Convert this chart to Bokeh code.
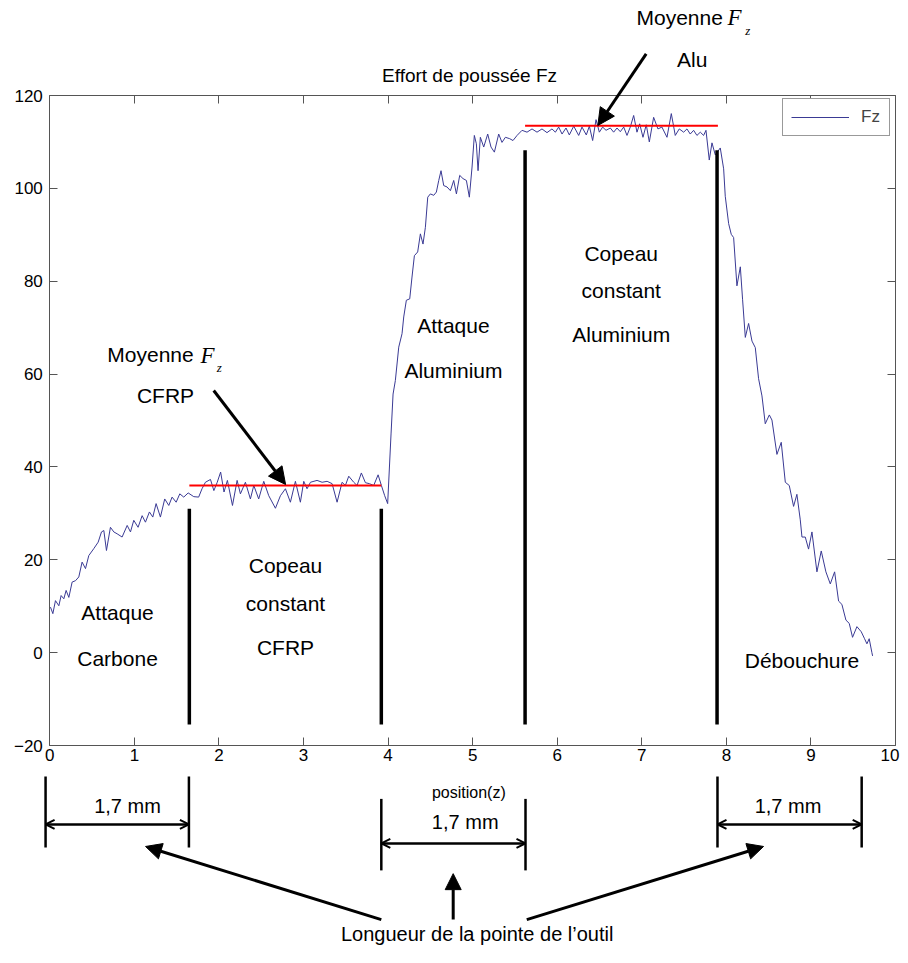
from bokeh.plotting import figure
from bokeh.models import (LinearAxis, FixedTicker, Arrow, NormalHead, OpenHead,
                          Range1d)
from bokeh.core.properties import value
from bokeh.embed import file_html
from bokeh.resources import INLINE

# ---------------- data ----------------
position_z = [
    0.008, 0.036, 0.067, 0.107, 0.134, 0.166, 0.193, 0.225, 0.264, 0.304,
    0.343, 0.382, 0.422, 0.461, 0.520, 0.572, 0.611, 0.639, 0.670, 0.717,
    0.757, 0.796, 0.855, 0.915, 0.954, 0.993, 1.044, 1.092, 1.131, 1.178,
    1.218, 1.257, 1.308, 1.359, 1.407, 1.446, 1.494, 1.537, 1.584, 1.636,
    1.702, 1.760, 1.800, 1.840, 1.900, 1.940, 1.980, 2.020, 2.060, 2.100,
    2.160, 2.215, 2.254, 2.313, 2.372, 2.412, 2.470, 2.530, 2.589, 2.668,
    2.727, 2.786, 2.845, 2.904, 2.963, 3.003, 3.042, 3.082, 3.160, 3.220,
    3.279, 3.338, 3.397, 3.456, 3.495, 3.535, 3.594, 3.633, 3.684, 3.732,
    3.779, 3.830, 3.882, 3.921, 3.960, 3.995, 4.035, 4.059, 4.086, 4.126,
    4.165, 4.185, 4.216, 4.256, 4.283, 4.311, 4.350, 4.382, 4.413, 4.441,
    4.469, 4.500, 4.540, 4.571, 4.599, 4.626, 4.658, 4.697, 4.737, 4.776,
    4.808, 4.847, 4.886, 4.926, 4.961, 4.993, 5.020, 5.044, 5.064, 5.091,
    5.131, 5.178, 5.217, 5.257, 5.308, 5.347, 5.387, 5.438, 5.477, 5.525,
    5.584, 5.643, 5.702, 5.761, 5.820, 5.879, 5.938, 5.978, 6.017, 6.057,
    6.104, 6.143, 6.195, 6.254, 6.293, 6.344, 6.380, 6.419, 6.459, 6.498,
    6.537, 6.577, 6.628, 6.667, 6.707, 6.746, 6.786, 6.825, 6.864, 6.904,
    6.943, 6.975, 7.014, 7.053, 7.089, 7.140, 7.191, 7.238, 7.298, 7.349,
    7.396, 7.443, 7.495, 7.534, 7.573, 7.613, 7.652, 7.692, 7.731, 7.759,
    7.798, 7.830, 7.869, 7.928, 7.968, 7.987, 8.027, 8.058, 8.086, 8.125,
    8.165, 8.192, 8.224, 8.263, 8.303, 8.342, 8.381, 8.421, 8.460, 8.508,
    8.539, 8.598, 8.649, 8.697, 8.744, 8.795, 8.834, 8.874, 8.894, 8.933,
    8.972, 9.012, 9.071, 9.122, 9.177, 9.229, 9.280, 9.327, 9.366, 9.414,
    9.453, 9.492, 9.544, 9.595, 9.634, 9.662, 9.689, 9.721, 9.729,
]
force_fz = [
    9.8, 8.4, 11.2, 10.1, 12.3, 11.6, 13.4, 11.9, 15.2, 15.5,
    16.3, 19.5, 18.1, 20.9, 22.4, 23.8, 26.0, 26.3, 22.0, 27.0,
    26.0, 25.6, 24.9, 27.4, 26.0, 28.5, 27.0, 29.5, 28.1, 30.3,
    29.2, 32.1, 29.2, 33.1, 31.7, 33.5, 32.4, 34.2, 33.5, 34.4,
    33.6, 33.5, 35.3, 36.7, 37.3, 34.9, 36.7, 38.9, 34.6, 37.1,
    31.7, 37.1, 34.2, 36.7, 33.1, 36.0, 33.1, 36.9, 33.8, 31.1,
    33.8, 35.3, 32.4, 36.9, 32.4, 36.9, 35.3, 36.7, 37.1, 36.7,
    36.9, 36.4, 32.4, 36.7, 36.0, 38.0, 36.7, 36.0, 38.7, 36.6,
    36.4, 36.0, 38.3, 36.0, 33.8, 32.1, 47.1, 55.7, 58.6, 65.8,
    68.7, 72.3, 75.9, 76.2, 80.9, 85.5, 86.3, 90.2, 88.0, 91.6,
    98.1, 98.8, 98.5, 99.2, 101.7, 103.8, 100.6, 100.3, 99.5, 101.7,
    98.8, 102.8, 102.1, 101.7, 98.1, 104.6, 111.4, 109.6, 103.8, 111.0,
    108.9, 111.7, 108.9, 107.8, 111.7, 109.9, 111.0, 110.7, 110.3, 111.4,
    112.5, 112.1, 112.8, 112.1, 112.8, 112.0, 112.8, 112.1, 113.2, 111.7,
    113.0, 111.5, 113.4, 111.4, 113.2, 111.5, 113.4, 110.3, 114.8, 112.1,
    113.2, 112.5, 113.0, 112.1, 113.0, 112.2, 113.2, 111.4, 113.2, 115.7,
    112.1, 113.9, 111.0, 113.7, 110.0, 115.3, 112.8, 113.2, 111.0, 116.1,
    111.4, 112.8, 112.1, 112.8, 111.7, 112.5, 111.4, 112.1, 111.4, 112.5,
    106.1, 109.8, 107.2, 108.7, 104.2, 98.3, 92.4, 90.1, 89.4, 79.0,
    83.1, 76.0, 67.9, 70.9, 67.1, 65.7, 59.0, 55.3, 49.3, 51.2,
    50.1, 42.7, 45.3, 36.7, 36.0, 31.5, 34.1, 28.6, 24.9, 24.9,
    22.3, 26.0, 17.4, 21.9, 17.4, 14.8, 17.4, 11.1, 10.4, 7.0,
    6.3, 3.3, 5.6, 4.5, 3.0, 1.9, 3.0, 0.0, -0.7,
]

# phase boundaries (black bars) and their extents
phase_bounds = [1.65, 3.92, 5.62, 7.89]
phase_bar_top = [31.0, 31.0, 108.2, 108.2]
phase_bar_bottom = [-15.5, -15.5, -15.5, -15.5]

# mean force levels (red lines)
mean_level = [36.0, 113.5]
mean_start = [1.65, 5.62]
mean_end = [3.92, 7.90]

# tool tip length brackets (1,7 mm)
tip_start = [-0.05, 3.92, 7.895]
tip_end = [1.645, 5.625, 9.60]

x_ticks = [0, 1, 2, 3, 4, 5, 6, 7, 8, 9, 10]
y_ticks = [-20, 0, 20, 40, 60, 80, 100, 120]

# ---------------- layout ----------------
W, H = 900, 947
PX_X = 84.57           # pixels per unit of position
PX_Y = 650.0 / 140.0   # pixels per unit of force
x_lo = -49.3 / PX_X
y_hi = 120 + 95 / PX_Y

FONT = value("Liberation Sans")
SERIF = value("Liberation Serif")
AX = "#555555"

p = figure(width=W, height=H,
           x_range=Range1d(x_lo, x_lo + W / PX_X),
           y_range=Range1d(y_hi - H / PX_Y, y_hi),
           x_axis_location=None, y_axis_location=None,
           toolbar_location=None, output_backend="svg",
           min_border=0, outline_line_color=None,
           background_fill_color="white", border_fill_color="white")
p.title.visible = False
p.grid.visible = False


def make_axis(loc, bounds, ticks, show_labels, standoff, overrides=None):
    ax = LinearAxis(fixed_location=loc, bounds=bounds,
                    ticker=FixedTicker(ticks=ticks),
                    major_tick_in=8, major_tick_out=0,
                    minor_tick_in=0, minor_tick_out=0,
                    axis_line_color=AX, major_tick_line_color=AX,
                    axis_line_width=1,
                    major_label_standoff=standoff,
                    major_label_text_font="Liberation Sans",
                    major_label_text_font_size="17px",
                    major_label_text_color="black" if show_labels else None)
    if overrides:
        ax.major_label_overrides = overrides
    return ax


# the last x label is drawn separately so that it stays inside the page
p.add_layout(make_axis(-20, (0, 10), x_ticks, True, 3, {10: ""}), "below")
p.add_layout(make_axis(120, (0, 10), x_ticks, False, 3), "above")
p.add_layout(make_axis(0, (-20, 120), y_ticks, True, 7), "left")
p.add_layout(make_axis(10, (-20, 120), y_ticks, False, 7), "right")
p.text(x=[x_ticks[-1]], y=[-20], text=[str(x_ticks[-1])], x_offset=[4],
       y_offset=[3], text_font=FONT, text_font_size="17px",
       text_align="right", text_baseline="top", text_color="black")

# measured force
r = p.line(position_z, force_fz, line_color="#3a3a94", line_width=1,
           legend_label="Fz")

# phase bars
p.segment(x0=phase_bounds, y0=phase_bar_bottom, x1=phase_bounds,
          y1=phase_bar_top, line_color="black", line_width=3.5)

# mean levels
p.segment(x0=mean_start, y0=mean_level, x1=mean_end, y1=mean_level,
          line_color="#ff0000", line_width=2)

# legend
lg = p.legend[0]
lg.location = (782, H - 136)
lg.padding = 8
lg.margin = 0
lg.spacing = 0
lg.glyph_width = 58
lg.glyph_height = 16
lg.label_height = 16
lg.label_standoff = 12
lg.label_text_font = "Liberation Sans"
lg.label_text_font_size = "17px"
lg.border_line_color = "#333333"
lg.border_line_width = 1
lg.background_fill_color = "white"
lg.background_fill_alpha = 1.0

# title
p.text(x=[4.963], y=[124.3], text=["Effort de poussée Fz"], text_font=FONT,
       text_font_size="19px", text_align="center", text_baseline="middle",
       text_color="black")

# region labels
lab_x = [0.801, 0.801, 2.787, 2.787, 2.787, 4.773, 4.773,
         6.757, 6.757, 6.757, 8.894, 1.368, 7.596]
lab_y = [8.65, -1.27, 18.77, 10.6, 1.11, 70.46, 60.77,
         85.97, 78.0, 68.52, -1.70, 55.4, 127.75]
lab_t = ["Attaque", "Carbone", "Copeau", "constant", "CFRP", "Attaque",
         "Aluminium", "Copeau", "constant", "Aluminium", "Débouchure",
         "CFRP", "Alu"]
p.text(x=lab_x, y=lab_y, text=lab_t, text_font=FONT, text_font_size="21px",
       text_align="center", text_baseline="middle", text_color="black")

# "Moyenne F_z" labels
p.text(x=[0.680, 6.937], y=[64.22, 136.86], text=["Moyenne", "Moyenne"],
       text_font=FONT, text_font_size="21px", text_align="left",
       text_baseline="middle", text_color="black")
p.text(x=[1.782, 8.013], y=[64.1, 136.7], text=["F", "F"],
       text_font=SERIF, text_font_style="italic", text_font_size="23px",
       text_align="left", text_baseline="middle", text_color="black")
p.text(x=[1.975, 8.222], y=[61.4, 133.9], text=["z", "z"],
       text_font=SERIF, text_font_style="italic", text_font_size="13px",
       text_align="left", text_baseline="middle", text_color="black")

# arrows pointing to the mean lines
for xs, ys, xe, ye in [(1.938, 56.46, 2.788, 36.22), (7.052, 128.98, 6.48, 113.54)]:
    p.add_layout(Arrow(end=NormalHead(size=17, fill_color="black",
                                      line_color="black"),
                       x_start=xs, y_start=ys, x_end=xe, y_end=ye,
                       line_color="black", line_width=3))

# x label
p.text(x=[4.955], y=[-30.06], text=["position(z)"], text_font=FONT,
       text_font_size="16px", text_align="center", text_baseline="middle",
       text_color="black")

# tool tip brackets below the axis
br_top = [-26.68, -31.5, -26.68]
br_bot = [-41.97, -46.9, -41.97]
br_mid = [-37.0, -41.1, -37.0]
p.segment(x0=tip_start, y0=br_top, x1=tip_start, y1=br_bot,
          line_color="black", line_width=2.5)
p.segment(x0=tip_end, y0=br_top, x1=tip_end, y1=br_bot,
          line_color="black", line_width=2.5)
for i in range(3):
    p.add_layout(Arrow(start=OpenHead(size=9, line_width=2),
                       end=OpenHead(size=9, line_width=2),
                       x_start=tip_start[i], y_start=br_mid[i],
                       x_end=tip_end[i], y_end=br_mid[i],
                       line_color="black", line_width=2.5))
p.text(x=[0.919, 4.912, 8.729], y=[-32.93, -36.52, -32.93],
       text=["1,7 mm", "1,7 mm", "1,7 mm"], text_font=FONT,
       text_font_size="20px", text_align="center", text_baseline="middle",
       text_color="black")

for xs, ys, xe, ye in [(3.92, -57.5, 1.132, -41.75),
                       (4.77, -57.5, 4.77, -47.6),
                       (5.64, -57.5, 8.44, -41.75)]:
    p.add_layout(Arrow(end=NormalHead(size=16, fill_color="black",
                                      line_color="black"),
                       x_start=xs, y_start=ys, x_end=xe, y_end=ye,
                       line_color="black", line_width=3))

p.text(x=[5.054], y=[-60.7], text=["Longueur de la pointe de l’outil"],
       text_font=FONT, text_font_size="20px", text_align="center",
       text_baseline="middle", text_color="black")

open("out.html", "w").write(file_html(p, INLINE))
